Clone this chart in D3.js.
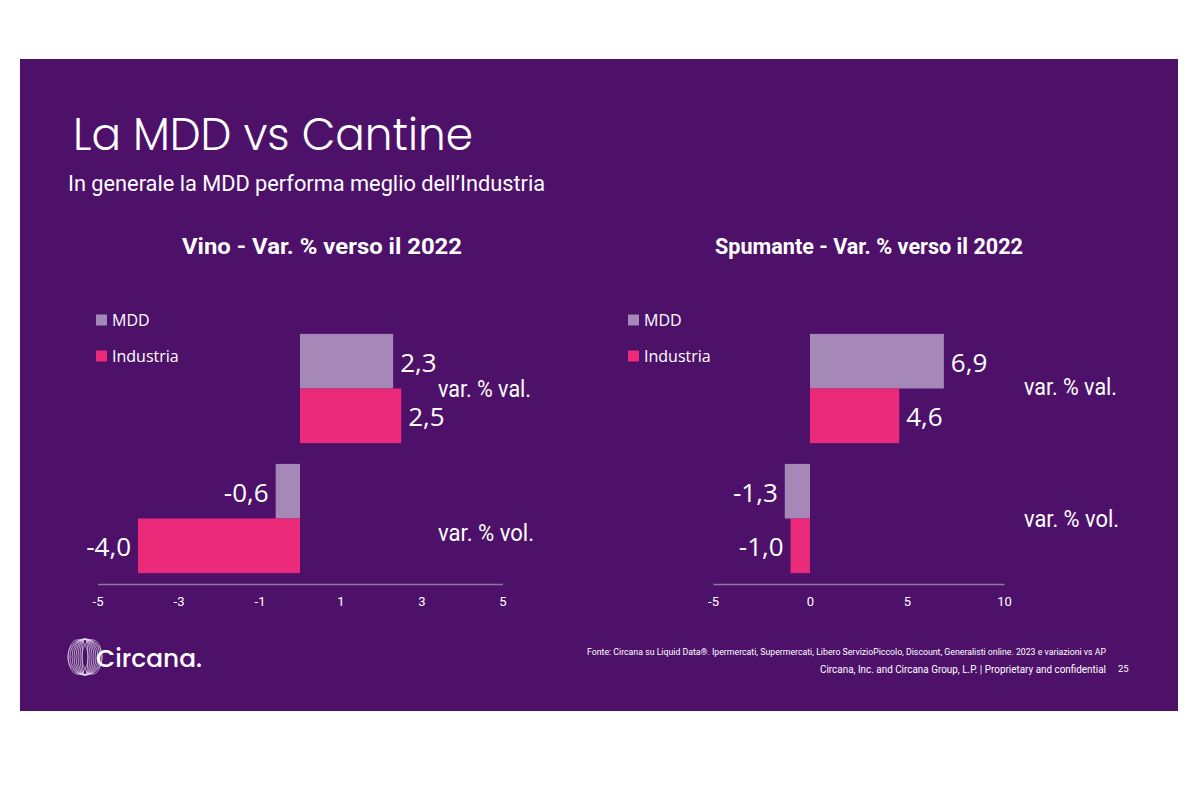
<!DOCTYPE html>
<html>
<head>
<meta charset="utf-8">
<script src="https://cdn.jsdelivr.net/npm/d3@7"></script>
<style>
  html, body { margin: 0; padding: 0; background: #ffffff; }
  svg { display: block; }
</style>
</head>
<body>
<svg id="chart" width="1200" height="800"></svg>
<script>
// ---------------- DATA ----------------
const categories = ["var. % val.", "var. % vol."];
const seriesNames = ["MDD", "Industria"];
const vinoMDD = [2.3, -0.6];
const vinoIndustria = [2.5, -4.0];
const spumanteMDD = [6.9, -1.3];
const spumanteIndustria = [4.6, -1.0];
const vinoTicks = [-5, -3, -1, 1, 3, 5];
const spumanteTicks = [-5, 0, 5, 10];
const chartTitles = ["Vino - Var. % verso il 2022", "Spumante - Var. % verso il 2022"];
const pageTitle = "La MDD vs Cantine";
const pageSubtitle = "In generale la MDD performa  meglio dell\u2019Industria";
const sourceNote = "Fonte: Circana su Liquid Data\u00AE.  Ipermercati, Supermercati, Libero ServizioPiccolo, Discount, Generalisti online. 2023 e variazioni vs AP";
const footerNote = "Circana, Inc. and Circana Group, L.P. |  Proprietary and confidential";
const pageNumber = "25";

// ---------------- STYLE ----------------
const PURPLE = "#4d116a";
const colors = { "MDD": "#a588b8", "Industria": "#ec2a7a" };
const svg = d3.select("#chart");

svg.append("rect").attr("x", 20).attr("y", 59).attr("width", 1158).attr("height", 652).attr("fill", PURPLE);

// Titles
svg.append("text").attr("x", 73).attr("y", 150)
  .attr("font-family", "Poppins, 'Open Sans', sans-serif").attr("font-weight", 300)
  .attr("font-size", 44).attr("fill", "#fff")
  .attr("textLength", 400).attr("lengthAdjust", "spacingAndGlyphs")
  .text(pageTitle);
svg.append("text").attr("x", 68).attr("y", 191)
  .attr("font-family", "Roboto, sans-serif").attr("font-size", 22).attr("fill", "#fff")
  .attr("textLength", 477).attr("lengthAdjust", "spacingAndGlyphs")
  .text(pageSubtitle);

const fmt = v => (v < 0 ? "-" : "") + Math.abs(v).toFixed(1).replace(".", ",");

const charts = [
  { title: chartTitles[0], titleX: 182, titleW: 280, mdd: vinoMDD, ind: vinoIndustria, ticks: vinoTicks,
    domain: [-5, 5], range: [97.5, 502.5], legendX: 96, catX: 438, catDy: [0, 14], catW: [93, 96] },
  { title: chartTitles[1], titleX: 715, titleW: 308, mdd: spumanteMDD, ind: spumanteIndustria, ticks: spumanteTicks,
    domain: [-5, 10], range: [713, 1004], legendX: 628, catX: 1024, catDy: [-2, 0], catW: [93, 95] }
];

const y = d3.scaleBand().domain(categories).range([323.5, 583.5]).paddingInner(0.16).paddingOuter(0.08);
const ySub = d3.scaleBand().domain(seriesNames).range([0, y.bandwidth()]);

charts.forEach(c => {
  const g = svg.append("g");
  const x = d3.scaleLinear().domain(c.domain).range(c.range);

  g.append("text").attr("x", c.titleX).attr("y", 254)
    .attr("font-family", "Roboto, sans-serif").attr("font-weight", 700)
    .attr("font-size", 22.5).attr("fill", "#fff")
    .attr("textLength", c.titleW).attr("lengthAdjust", "spacingAndGlyphs")
    .text(c.title);

  // legend
  seriesNames.forEach((s, i) => {
    const ly = 320 + i * 36;
    g.append("rect").attr("x", c.legendX).attr("y", ly - 5.5).attr("width", 11).attr("height", 11).attr("fill", colors[s]);
    g.append("text").attr("x", c.legendX + 16).attr("y", ly).attr("dy", "0.36em")
      .attr("font-family", "'Open Sans', sans-serif").attr("font-size", 16).attr("fill", "#fff").text(s);
  });

  // bars
  const rows = [];
  categories.forEach((cat, i) => {
    rows.push({ cat, s: "MDD", v: c.mdd[i] });
    rows.push({ cat, s: "Industria", v: c.ind[i] });
  });
  g.selectAll("rect.bar").data(rows).enter().append("rect").attr("class", "bar")
    .attr("x", d => x(Math.min(0, d.v)))
    .attr("y", d => y(d.cat) + ySub(d.s))
    .attr("width", d => Math.abs(x(d.v) - x(0)))
    .attr("height", ySub.bandwidth())
    .attr("fill", d => colors[d.s]);

  g.selectAll("text.val").data(rows).enter().append("text").attr("class", "val")
    .attr("x", d => d.v >= 0 ? x(d.v) + 7 : x(d.v) - 7)
    .attr("y", d => y(d.cat) + ySub(d.s) + ySub.bandwidth() / 2 + 1)
    .attr("dy", "0.36em")
    .attr("text-anchor", d => d.v >= 0 ? "start" : "end")
    .attr("font-family", "'Open Sans', sans-serif").attr("font-size", 26).attr("fill", "#fff")
    .text(d => fmt(d.v));

  // category labels
  categories.forEach((cat, i) => {
    g.append("text").attr("x", c.catX).attr("y", y(cat) + y.bandwidth() / 2 + c.catDy[i]).attr("dy", "0.36em")
      .attr("font-family", "Roboto, sans-serif").attr("font-size", 23).attr("fill", "#fff")
      .attr("textLength", c.catW[i]).attr("lengthAdjust", "spacingAndGlyphs")
      .text(cat);
  });

  // axis
  const axis = d3.axisBottom(x).tickValues(c.ticks).tickSize(0).tickPadding(13).tickFormat(d => String(d));
  const ag = g.append("g").attr("transform", "translate(0,584)").call(axis);
  ag.select(".domain").attr("stroke", "#8c7c9c").attr("stroke-width", 1.5);
  ag.selectAll("text").attr("font-family", "Roboto, sans-serif").attr("font-size", 13).attr("fill", "#fff");
});

// footer
svg.append("text").attr("x", 587).attr("y", 655)
  .attr("font-family", "Roboto, sans-serif").attr("font-size", 9.5).attr("fill", "#fff")
  .attr("textLength", 519).attr("lengthAdjust", "spacingAndGlyphs").text(sourceNote);
svg.append("text").attr("x", 820).attr("y", 673)
  .attr("font-family", "Roboto, sans-serif").attr("font-size", 10).attr("fill", "#fff")
  .attr("textLength", 286).attr("lengthAdjust", "spacingAndGlyphs").text(footerNote);
svg.append("text").attr("x", 1118).attr("y", 672)
  .attr("font-family", "Roboto, sans-serif").attr("font-size", 9.5).attr("fill", "#fff").text(pageNumber);

// logo
const logo = svg.append("g").attr("transform", "translate(85,657)");
const rings = [17, 15, 13, 11, 9, 7, 5, 3];
rings.forEach(r => {
  logo.append("ellipse").attr("cx", 0).attr("cy", 0).attr("rx", r).attr("ry", 18)
    .attr("fill", "none").attr("stroke", "#e6dcee").attr("stroke-width", 0.7);
});
[-7, 7].forEach(dx => {
  logo.append("ellipse").attr("cx", dx).attr("cy", 0).attr("rx", 10).attr("ry", 17.5)
    .attr("fill", "none").attr("stroke", "#e6dcee").attr("stroke-width", 0.6);
});
svg.append("text").attr("x", 96).attr("y", 667)
  .attr("font-family", "Poppins, 'Open Sans', sans-serif").attr("font-weight", 500)
  .attr("font-size", 25).attr("fill", "#fff")
  .attr("textLength", 106).attr("lengthAdjust", "spacingAndGlyphs").text("Circana.");
</script>
</body>
</html>
